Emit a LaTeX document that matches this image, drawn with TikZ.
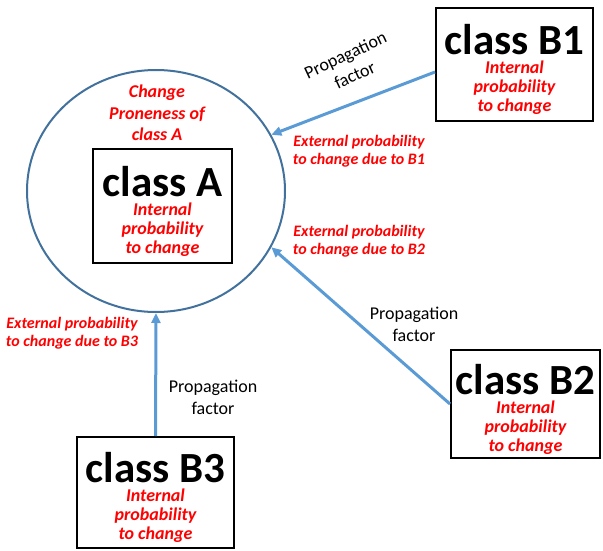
\documentclass[tikz,border=0pt]{standalone}
\usepackage{fontspec}
\setmainfont{Carlito}
\usetikzlibrary{arrows.meta,shapes.geometric}
\definecolor{ringblue}{HTML}{41719C}
\definecolor{arrowblue}{HTML}{5B9BD5}
\definecolor{notered}{HTML}{FF0000}
\newcommand{\classname}[1]{{\color{black}\fontsize{43}{43}\selectfont\bfseries\upshape\rule{0pt}{41pt}#1}}
\tikzset{
    %Define standard arrow tip
    >={Triangle[length=10pt,width=9pt]},
    %Define style for boxes
    classbox/.style={
           rectangle,
           draw=black, line width=2pt,
           align=center,
           inner sep=0pt,
           text=notered,
           font=\fontsize{18}{19}\selectfont\bfseries\itshape},
    proneness/.style={
           ellipse,
           draw=ringblue, line width=2pt,
           minimum width=258pt,
           minimum height=242pt,
           inner sep=0pt},
    rednote/.style={
           align=center,
           text=notered,
           font=\fontsize{16}{18.5}\selectfont\bfseries\itshape},
    factor/.style={
           align=center,
           font=\fontsize{18}{22}\selectfont},
    % Define arrow style
    pil/.style={
           ->,
           draw=arrowblue,
           line width=3pt}
}
\begin{document}
\begin{tikzpicture}[x=1pt,y=-1pt]
\useasboundingbox (0,0) rectangle (603,551);
 %nodes
\node[proneness](ring) at (156,191){};
\node[rednote, font=\fontsize{18}{21.5}\selectfont\bfseries\itshape](ringtext) at (157,113){Change\\Proneness of\\class A};
\node[classbox, minimum width=139pt, minimum height=114pt](A) at (162.5,206)
    {\classname{class A}\\Internal\\probability\\to change};
\node[classbox, minimum width=157pt, minimum height=113pt](B1) at (514.5,64.5)
    {\classname{class B1}\\Internal\\probability\\to change};
\node[classbox, minimum width=149pt, minimum height=108pt](B2) at (525.5,404)
    {\classname{class B2}\\Internal\\probability\\to change};
\node[classbox, minimum width=157pt, minimum height=111pt](B3) at (155.5,492.5)
    {\classname{class B3}\\Internal\\probability\\to change};

 %labels
\node[rednote](ext1) at (359,151){External probability\\to change due to B1};
\node[rednote](ext2) at (359,241){External probability\\to change due to B2};
\node[rednote](ext3) at (72,333){External probability\\to change due to B3};
\node[factor, rotate=25](fac1) at (350,65){Propagation\\factor};
\node[factor](fac2) at (414,324){Propagation\\factor};
\node[factor](fac3) at (213,397){Propagation\\factor};

 \path
    ([yshift=-7.5pt]B1.west) edge [pil] (ring.26)
    (B2.west) edge [pil] (ring.-26)
    (B3.north) edge [pil] (ring.south);
\end{tikzpicture}
\end{document}
